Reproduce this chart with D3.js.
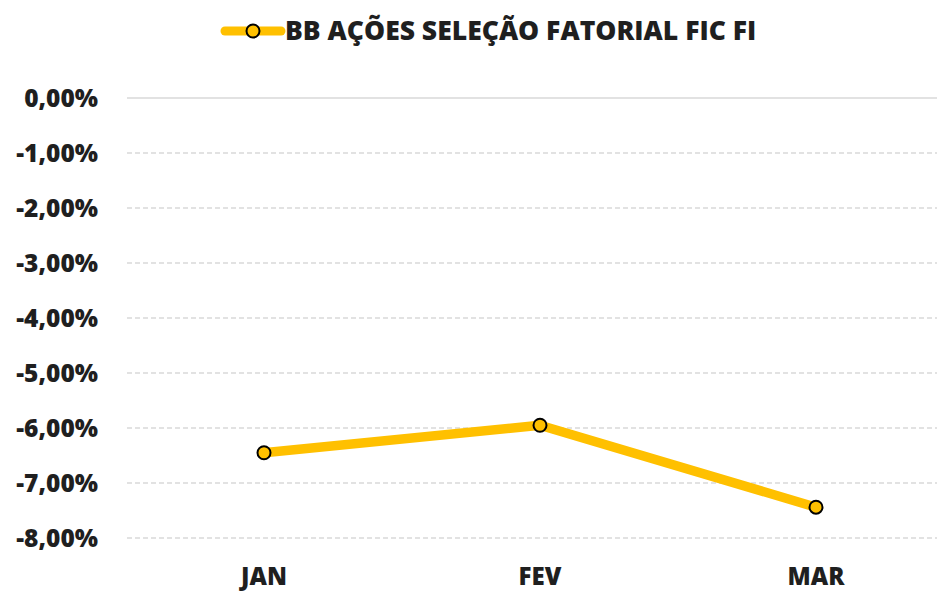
<!DOCTYPE html>
<html><head><meta charset="utf-8">
<script src="https://cdn.jsdelivr.net/npm/d3@7"></script>
<style>body{margin:0;background:#fff;} text{font-family:"Open Sans",Lato,sans-serif;font-weight:800;fill:#1f1f1f;}</style>
</head><body>
<svg id="c" width="937" height="592"></svg>
<script>
const categories = ["JAN","FEV","MAR"];
const values = [-6.45, -5.95, -7.44];
const yTicks = [0,-1,-2,-3,-4,-5,-6,-7,-8];
const seriesName = "BB AÇÕES SELEÇÃO FATORIAL FIC FI";

const svg = d3.select("#c");
const x = d3.scaleBand().domain(categories).range([126, 954]);
const y = d3.scaleLinear().domain([-8, 0]).range([538, 98]);
const fmt = v => d3.format(".2f")(v).replace(".", ",").replace("−","-") + "%";

const grid = svg.append("g");
yTicks.forEach(t => {
  grid.append("line").attr("x1", 127).attr("x2", 937)
    .attr("y1", y(t)).attr("y2", y(t))
    .attr("stroke", "#d9d9d9").attr("stroke-width", 1.5)
    .attr("stroke-dasharray", t === 0 ? null : "5,3");
  svg.append("text").attr("x", 98).attr("y", y(t) + 8.5)
    .attr("text-anchor", "end").attr("font-size", 24.5).text(fmt(t));
});
categories.forEach(c => {
  svg.append("text").attr("x", x(c) + x.bandwidth()/2).attr("y", 585)
    .attr("text-anchor", "middle").attr("font-size", 24).text(c);
});
const line = d3.line().x((d,i) => x(categories[i]) + x.bandwidth()/2).y(d => y(d));
svg.append("path").datum(values).attr("d", line).attr("fill", "none")
  .attr("stroke", "#FFC000").attr("stroke-width", 9.5).attr("stroke-linejoin", "round");
svg.selectAll(".pt").data(values).join("circle")
  .attr("cx", (d,i) => x(categories[i]) + x.bandwidth()/2).attr("cy", d => y(d))
  .attr("r", 6.5).attr("fill", "#FFC000").attr("stroke", "#000").attr("stroke-width", 2);

// legend
svg.append("line").attr("x1", 225).attr("x2", 281).attr("y1", 31).attr("y2", 31)
  .attr("stroke", "#FFC000").attr("stroke-width", 9).attr("stroke-linecap", "round");
svg.append("circle").attr("cx", 253).attr("cy", 31).attr("r", 6.5)
  .attr("fill", "#FFC000").attr("stroke", "#000").attr("stroke-width", 2);
svg.append("text").attr("x", 285).attr("y", 40)
  .attr("font-size", 26.5).text(seriesName);
</script>
</body></html>
